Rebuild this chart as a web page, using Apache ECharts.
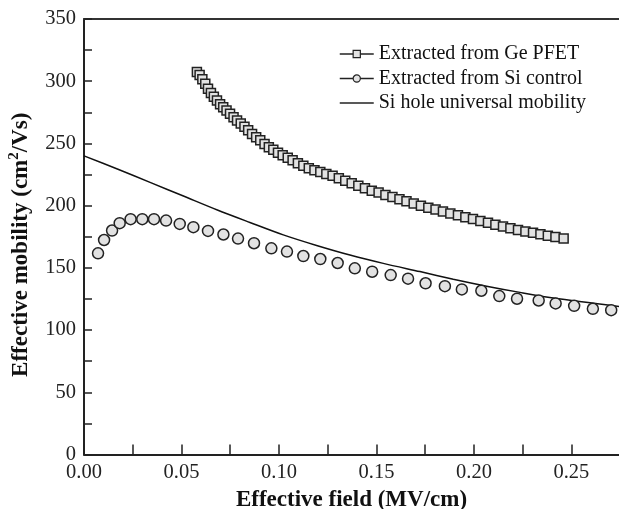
<!DOCTYPE html>
<html>
<head>
<meta charset="utf-8">
<script src="https://cdn.jsdelivr.net/npm/echarts@6/dist/echarts.min.js"></script>
<style>html,body{margin:0;padding:0;background:#fff;}#c{width:619px;height:509px;}</style>
</head>
<body>
<div id="c"></div>
<script>
// ---- data ----
var geX = [0.0579,0.0593,0.0607,0.0622,0.0636,0.0651,0.0666,0.0682,0.0698,0.0714,0.0731,0.0749,0.0767,0.0785,0.0804,0.0823,0.0842,0.0862,0.0883,0.0904,0.0926,0.0948,0.0971,0.0995,0.1019,0.1045,0.1070,0.1097,0.1125,0.1153,0.1182,0.1212,0.1243,0.1275,0.1307,0.1340,0.1373,0.1407,0.1441,0.1476,0.1511,0.1546,0.1582,0.1618,0.1654,0.1691,0.1728,0.1766,0.1803,0.1841,0.1879,0.1918,0.1956,0.1995,0.2033,0.2072,0.2110,0.2149,0.2187,0.2226,0.2264,0.2303,0.2341,0.2379,0.2418,0.2460];
var geY = [307.5,305,301.5,298,294,290.5,287.5,284.5,281.5,279,276.5,273.8,271,268.5,266,263.5,260.5,257.5,255,252.5,249.5,247,245,242.5,240.5,238.5,236.5,234,232,230,228.5,227,225.5,224,222,220,218,216,214,212,210.5,208.5,207,205.2,203.5,201.8,200,198.3,196.8,195.2,193.7,192.2,190.7,189.2,187.7,186.2,184.7,183.2,181.8,180.4,179.3,178.2,177,175.8,174.7,173.6];
var siX = [0.0072,0.0103,0.0144,0.0183,0.0239,0.0299,0.0359,0.0421,0.0491,0.0561,0.0636,0.0715,0.0790,0.0872,0.0961,0.1041,0.1125,0.1212,0.1301,0.1389,0.1478,0.1573,0.1662,0.1752,0.1851,0.1938,0.2038,0.2130,0.2221,0.2332,0.2419,0.2514,0.2610,0.2704];
var siY = [161.7,172.4,180,185.9,189.1,189.1,189.1,188,185.3,182.7,179.7,176.8,173.5,169.8,165.7,163.1,159.5,157.1,153.9,149.6,146.9,144.2,141.3,137.6,135.3,132.7,131.6,127.3,125.2,123.8,121.4,119.5,117.1,116.0];
var uniX = [0,0.0171,0.0342,0.0513,0.0684,0.0851,0.1022,0.1193,0.1364,0.1535,0.1723,0.1894,0.2065,0.2236,0.2407,0.2744];
var uniY = [240,229.5,218.5,207.5,196.5,186.5,176.5,168,160.3,153.6,147,140.9,135.3,130.3,125.8,119];
var xTickLabels = ['0.00','0.05','0.10','0.15','0.20','0.25'];
var yTickLabels = ['0','50','100','150','200','250','300','350'];
var seriesNames = ['Extracted from Ge PFET','Extracted from Si control','Si hole universal mobility'];

function zip(a,b){return a.map(function(v,i){return [v,b[i]];});}

var FONT = 'Liberation Serif';
var AX = '#222';
var FILL = '#e2e2e2';

var chart = echarts.init(document.getElementById('c'), null, {renderer:'canvas'});
chart.setOption({
  animation: false,
  backgroundColor: '#fff',
  grid: {left: 84, right: 0, top: 19, bottom: 54.5, containLabel: false, outerBoundsMode: 'none'},
  legend: {
    left: 334, top: 39, orient: 'vertical',
    itemWidth: 34, itemHeight: 9, itemGap: 4.5,
    textStyle: {fontFamily: FONT, fontSize: 20, color: '#111', lineHeight: 20},
    data: [
      {name: seriesNames[0], itemStyle: {color: FILL, borderColor: AX, borderWidth: 1.2}, lineStyle: {color: AX, width: 1.5, opacity: 1}},
      {name: seriesNames[1], itemStyle: {color: FILL, borderColor: AX, borderWidth: 1.2}, lineStyle: {color: AX, width: 1.5, opacity: 1}},
      {name: seriesNames[2], itemStyle: {opacity: 0}, lineStyle: {color: AX, width: 1.5, opacity: 1}}
    ]
  },
  xAxis: [{
    type: 'value', min: 0, max: 0.2744, interval: 0.025,
    axisLine: {show: true, onZero: false, lineStyle: {color: AX, width: 2}},
    axisTick: {show: true, inside: true, length: 10, lineStyle: {color: AX, width: 1.5}},
    splitLine: {show: false},
    axisLabel: {
      margin: 8, color: '#222', fontFamily: FONT, fontSize: 20.5, showMaxLabel: false,
      formatter: function(v){ var k = Math.round(v*1000); return (k % 50 === 0) ? xTickLabels[k/50] : ''; }
    },
    name: 'Effective field (MV/cm)', nameLocation: 'middle', nameGap: 32,
    nameTextStyle: {fontFamily: FONT, fontSize: 23, fontWeight: 'bold', color: '#111'}
  }, {
    type: 'value', position: 'top', min: 0, max: 0.2744,
    axisLine: {show: true, onZero: false, lineStyle: {color: '#333', width: 2}},
    axisTick: {show: false}, axisLabel: {show: false}, splitLine: {show: false}
  }],
  yAxis: {
    type: 'value', min: 0, max: 350, interval: 25,
    axisLine: {show: true, onZero: false, lineStyle: {color: AX, width: 2}},
    axisTick: {show: true, inside: true, length: 8, lineStyle: {color: AX, width: 1.5}},
    splitLine: {show: false},
    axisLabel: {
      margin: 8, color: '#222', fontFamily: FONT, fontSize: 20.5,
      formatter: function(v){ var k = Math.round(v); return (k % 50 === 0) ? yTickLabels[k/50] : ''; }
    },
    name: '{t|Effective mobility (cm}{s|2}{t|/Vs)}', nameLocation: 'middle', nameGap: 51,
    nameTextStyle: {
      fontFamily: FONT, fontSize: 23, fontWeight: 'bold', color: '#111',
      padding: [0, 16, 0, 0],
      rich: {
        t: {fontFamily: FONT, fontSize: 23, fontWeight: 'bold', color: '#111', lineHeight: 26, verticalAlign: 'bottom'},
        s: {fontFamily: FONT, fontSize: 15, fontWeight: 'bold', color: '#111', lineHeight: 26, verticalAlign: 'top'}
      }
    }
  },
  series: [
    {
      name: seriesNames[2], type: 'line', data: zip(uniX, uniY), smooth: 0.3,
      showSymbol: false, symbol: 'none', lineStyle: {color: '#111', width: 1.5}, itemStyle: {color: '#111'}, z: 1
    },
    {
      name: seriesNames[1], type: 'line', data: zip(siX, siY),
      symbol: 'circle', symbolSize: 11, showSymbol: true,
      lineStyle: {width: 0, opacity: 0},
      itemStyle: {color: FILL, borderColor: AX, borderWidth: 1.5}, z: 3
    },
    {
      name: seriesNames[0], type: 'line', data: zip(geX, geY),
      symbol: 'rect', symbolSize: 9, showSymbol: true,
      lineStyle: {width: 0, opacity: 0},
      itemStyle: {color: FILL, borderColor: AX, borderWidth: 1.5}, z: 4
    }
  ]
});
</script>
</body>
</html>
